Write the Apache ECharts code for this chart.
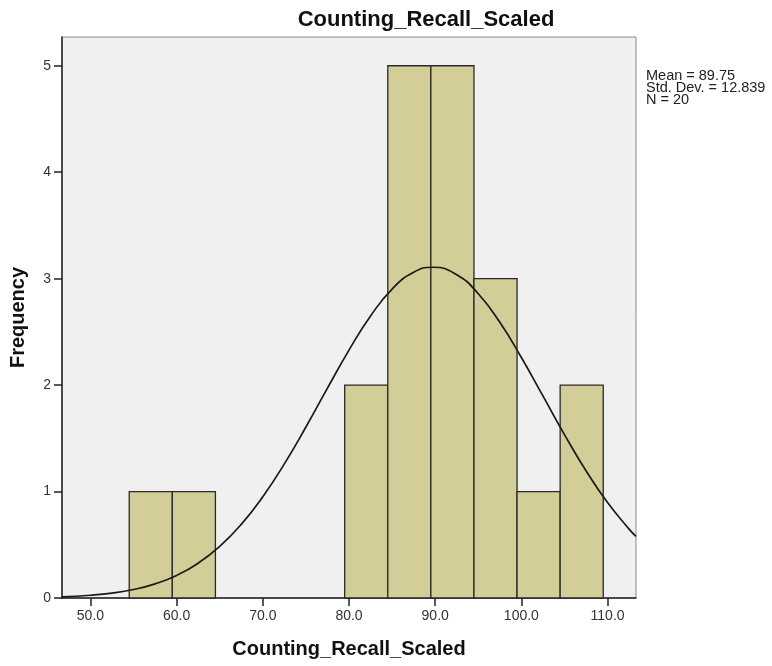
<!DOCTYPE html>
<html><head><meta charset="utf-8">
<script src="https://cdn.jsdelivr.net/npm/echarts@6/dist/echarts.min.js"></script>
<style>html,body{margin:0;padding:0;background:#fff}#c{width:772px;height:666px}</style>
</head><body><div id="c"></div>
<script>
// Histogram bins: [lower edge, upper edge]
var binStarts = [54.5, 59.5, 79.5, 84.5, 89.5, 94.5, 99.5, 104.5];
var binEnds   = [59.5, 64.5, 84.5, 89.5, 94.5, 99.5, 104.5, 109.5];
var frequencies = [1, 1, 2, 5, 5, 3, 1, 2];
// Normal curve points
var curveX = [46.7, 50, 52.5, 55, 57.5, 60, 62.5, 65, 67.5, 70, 72.5, 75, 77.5, 80, 82.5, 85, 87.5, 89.75, 92.5, 95, 97.5, 100, 102.5, 105, 107.5, 110, 112.5, 113.3];
var curveY = [0.011, 0.026, 0.046, 0.080, 0.133, 0.212, 0.327, 0.485, 0.692, 0.952, 1.260, 1.606, 1.971, 2.329, 2.649, 2.902, 3.060, 3.107, 3.037, 2.858, 2.590, 2.259, 1.898, 1.535, 1.195, 0.896, 0.647, 0.578];
var xTicks = [50, 60, 70, 80, 90, 100, 110];
var yTicks = [0, 1, 2, 3, 4, 5];
var statsLines = ['Mean = 89.75', 'Std. Dev. = 12.839', 'N = 20'];
var titleText = 'Counting_Recall_Scaled';
var xName = 'Counting_Recall_Scaled';
var yName = 'Frequency';

var barData = binStarts.map(function (s, i) { return [s, binEnds[i], frequencies[i]]; });
var curveData = curveX.map(function (x, i) { return [x, curveY[i]]; });

var chart = echarts.init(document.getElementById('c'), null, {renderer: 'canvas'});
var font = 'Liberation Sans, Arial, sans-serif';
chart.setOption({
  animation: false,
  backgroundColor: '#ffffff',
  textStyle: {fontFamily: font},
  title: {
    text: titleText, left: 421, top: 4, textAlign: 'center',
    textStyle: {fontSize: 22, fontWeight: 'bold', color: '#111', fontFamily: font}
  },
  graphic: [{
    type: 'text', left: 646, top: 68,
    style: {text: statsLines.join('\n'), fontSize: 14.5, lineHeight: 12, fill: '#222', fontFamily: font}
  }],
  grid: {
    left: 62, right: 136, top: 37, bottom: 68,
    outerBoundsMode: 'none', containLabel: false,
    show: true, backgroundColor: '#f0f0f0', borderColor: '#8a8a8a', borderWidth: 1
  },
  xAxis: {
    type: 'value', min: 46.7, max: 113.3,
    name: xName, nameLocation: 'middle', nameGap: 41,
    nameTextStyle: {fontSize: 20, fontWeight: 'bold', color: '#111', fontFamily: font},
    axisLine: {show: true, lineStyle: {color: '#222', width: 1.5}},
    axisTick: {show: true, customValues: xTicks, length: 8, lineStyle: {color: '#222', width: 1.5}},
    axisLabel: {customValues: xTicks, formatter: function (v) { return v.toFixed(1); }, fontSize: 14, color: '#333', margin: 11, fontFamily: font},
    splitLine: {show: false}
  },
  yAxis: {
    type: 'value', min: 0, max: 5.27,
    name: yName, nameLocation: 'middle', nameGap: 34, nameRotate: 90,
    nameTextStyle: {fontSize: 20, fontWeight: 'bold', color: '#111', fontFamily: font},
    axisLine: {show: true, lineStyle: {color: '#222', width: 1.5}},
    axisTick: {show: true, customValues: yTicks, length: 8, lineStyle: {color: '#222', width: 1.5}},
    axisLabel: {customValues: yTicks, fontSize: 14, color: '#333', margin: 11, fontFamily: font},
    splitLine: {show: false}
  },
  series: [{
    type: 'custom',
    data: barData,
    encode: {x: [0, 1], y: 2},
    renderItem: function (params, api) {
      var p0 = api.coord([api.value(0), 0]);
      var p1 = api.coord([api.value(1), api.value(2)]);
      return {
        type: 'rect',
        shape: {x: p0[0], y: p1[1], width: p1[0] - p0[0], height: p0[1] - p1[1]},
        style: {fill: '#d3ce97', stroke: '#2a2a2a', lineWidth: 1.3}
      };
    },
    z: 2
  }, {
    type: 'line',
    data: curveData,
    smooth: true,
    showSymbol: false,
    lineStyle: {color: '#1a1a1a', width: 1.7},
    z: 3
  }]
});
</script></body></html>
